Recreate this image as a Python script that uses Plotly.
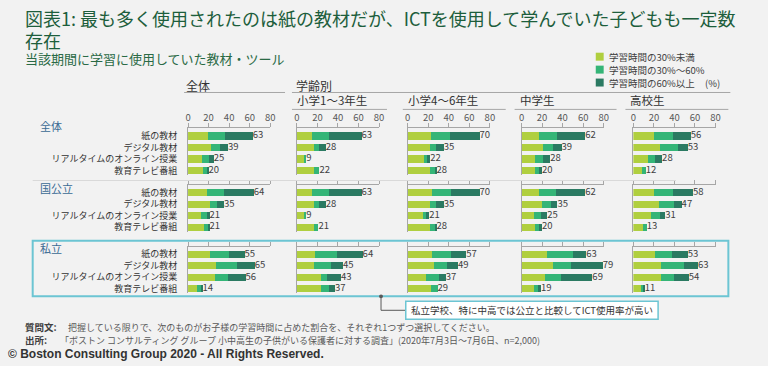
import plotly.graph_objects as go

# ---------------- data ----------------
items = ["紙の教材", "デジタル教材", "リアルタイムのオンライン授業", "教育テレビ番組"]
groups = ["全体", "国公立", "私立"]
panels = ["全体", "小学1～3年生", "小学4～6年生", "中学生", "高校生"]
series_names = ["学習時間の30%未満", "学習時間の30%～60%", "学習時間の60%以上"]
tick_vals = [0, 20, 40, 60, 80]

# each list: 全体(4 items), 国公立(4 items), 私立(4 items)
all_low = [19, 22, 14, 15, 18, 21, 13, 16, 21, 27, 26, 9]
all_mid = [17, 9, 6, 4, 17, 7, 5, 4, 19, 21, 13, 4]
all_high = [27, 8, 5, 1, 29, 7, 3, 1, 15, 17, 17, 1]

e13_low = [15, 17, 7, 17, 15, 17, 7, 17, 18, 17, 23, 23]
e13_mid = [16, 5, 2, 5, 16, 5, 2, 4, 21, 16, 6, 8]
e13_high = [32, 6, 0, 0, 32, 6, 0, 0, 25, 12, 14, 6]

e46_low = [23, 22, 16, 22, 24, 22, 15, 22, 24, 26, 18, 23]
e46_mid = [18, 6, 3, 5, 18, 6, 3, 5, 18, 12, 12, 6]
e46_high = [29, 7, 3, 1, 28, 7, 3, 1, 15, 11, 7, 0]

jh_low = [17, 21, 13, 13, 17, 20, 12, 13, 25, 31, 23, 12]
jh_mid = [18, 10, 8, 4, 17, 9, 7, 4, 25, 17, 15, 4]
jh_high = [27, 8, 7, 3, 28, 6, 6, 3, 13, 31, 31, 3]

hs_low = [20, 26, 14, 8, 20, 25, 17, 9, 21, 27, 27, 7]
hs_mid = [19, 17, 7, 4, 19, 15, 9, 4, 17, 22, 13, 2]
hs_high = [17, 10, 7, 0, 19, 7, 5, 0, 15, 14, 14, 2]

panel_data = [
    (all_low, all_mid, all_high),
    (e13_low, e13_mid, e13_high),
    (e46_low, e46_mid, e46_high),
    (jh_low, jh_mid, jh_high),
    (hs_low, hs_mid, hs_high),
]

# ---------------- style ----------------
W, H = 768, 366
colors = ["#b0cf3f", "#34b577", "#2b7a62"]
BG = "#f2f2f2"
FONT = "Noto Sans CJK JP"
col_x0 = [187, 297, 409, 524, 637]
col_w = 83
grp_top = [129, 186, 248]
grp_h = 47


def px(x):
    return x / W


def py(y):
    return 1 - y / H


fig = go.Figure()
layout = dict(
    width=W, height=H, margin=dict(l=0, r=0, t=0, b=0),
    paper_bgcolor=BG, plot_bgcolor=BG, barmode="stack", showlegend=False,
    font=dict(family=FONT, color="#404040"),
)

for g in range(3):
    for p in range(5):
        k = g * 5 + p + 1
        xa = "x" if k == 1 else f"x{k}"
        ya = "y" if k == 1 else f"y{k}"
        low, mid, high = panel_data[p]
        sl = slice(g * 4, g * 4 + 4)
        segs = [low[sl], mid[sl], high[sl]]
        for s in range(3):
            fig.add_trace(go.Bar(
                x=segs[s], y=[0, 1, 2, 3], orientation="h", width=0.62,
                marker=dict(color=colors[s], line=dict(width=0)),
                name=series_names[s], xaxis=xa, yaxis=ya, hoverinfo="x",
            ))
        totals = [a + b + c for a, b, c in zip(*segs)]
        fig.add_trace(go.Scatter(
            x=totals, y=[0, 1, 2, 3], mode="text", text=[str(t) for t in totals],
            textposition="middle right", cliponaxis=False,
            textfont=dict(size=9.5, color="#404040", family=FONT),
            xaxis=xa, yaxis=ya, hoverinfo="skip",
        ))
        layout["xaxis" if k == 1 else f"xaxis{k}"] = dict(
            domain=[px(col_x0[p]), px(col_x0[p] + col_w)], range=[0, 80],
            side="top", anchor=ya, showline=True, linecolor="#a6a6a6", linewidth=1,
            ticks="outside", ticklen=4, tickcolor="#a6a6a6", tickvals=tick_vals,
            showticklabels=(g == 0), tickfont=dict(size=9.5, color="#595959"),
            ticklabelstandoff=-2,
            showgrid=False, zeroline=False, fixedrange=True,
        )
        layout["yaxis" if k == 1 else f"yaxis{k}"] = dict(
            domain=[py(grp_top[g] + grp_h), py(grp_top[g])], range=[3.4, -0.67],
            anchor=xa, showline=True, linecolor="#a6a6a6", linewidth=1,
            tickvals=[0, 1, 2, 3], ticktext=items, showticklabels=(p == 0),
            ticks="outside", ticklen=8, tickcolor="rgba(0,0,0,0)",
            tickfont=dict(size=9, color="#333333"),
            showgrid=False, zeroline=False, fixedrange=True,
        )

ann = []
shapes = []


def text(x, y, t, size, color="#333333", anchor="left", bold=False, family=FONT):
    ann.append(dict(
        x=px(x), y=py(y), xref="paper", yref="paper", text=(f"<b>{t}</b>" if bold else t),
        showarrow=False, xanchor=anchor, yanchor="middle",
        font=dict(size=size, color=color, family=family),
    ))


def line(x0, y0, x1, y1, color="#a6a6a6", width=1):
    shapes.append(dict(type="line", xref="paper", yref="paper",
                       x0=px(x0), y0=py(y0), x1=px(x1), y1=py(y1),
                       line=dict(color=color, width=width)))


# titles
text(20, 18, "図表1: 最も多く使用されたのは紙の教材だが、ICTを使用して学んでいた子どもも一定数", 18, "#1d5e3c")
text(20, 40, "存在", 18, "#1d5e3c")
text(20, 59, "当該期間に学習に使用していた教材・ツール", 13, "#2a6a45")

# legend
for i, (nm, c) in enumerate(zip(series_names, colors)):
    yy = 57 + i * 13
    shapes.append(dict(type="rect", xref="paper", yref="paper",
                       x0=px(599), x1=px(607), y0=py(yy + 4), y1=py(yy - 4),
                       fillcolor=c, line=dict(width=0)))
    text(610, yy, nm, 9.5, "#404040")
text(727, 83, "(%)", 9.5, "#404040", anchor="right")

# panel headers
text(183, 86, panels[0], 12, "#333333")
line(183, 93, 285, 93)
text(294, 86, "学齢別", 12, "#333333")
line(292, 93, 735, 93)
sub_x = [295, 407, 520, 632]
sub_end = [388, 508, 620, 733]
for i in range(4):
    text(sub_x[i], 101, panels[i + 1], 11.5, "#333333")
    line(sub_x[i] - 3, 110, sub_end[i], 110)

# group labels
grp_y = [127, 189, 249]
for g in range(3):
    text(35, grp_y[g], groups[g], 11, "#3a6a94")

# separator and highlight box
line(30, 181.5, 680, 181.5, "#d9d9d9", 1)
shapes.append(dict(type="rect", xref="paper", yref="paper",
                   x0=px(30), x1=px(733), y0=py(298), y1=py(242),
                   line=dict(color="#6cc5d3", width=2), fillcolor="rgba(0,0,0,0)"))

# callout
shapes.append(dict(type="circle", xref="paper", yref="paper",
                   x0=px(380), x1=px(384), y0=py(300), y1=py(296),
                   fillcolor="#595959", line=dict(width=0)))
line(382, 298, 382, 312, "#595959", 1)
line(382, 312, 407, 312, "#595959", 1)
shapes.append(dict(type="rect", xref="paper", yref="paper",
                   x0=px(407), x1=px(662), y0=py(321), y1=py(303),
                   line=dict(color="#6cc5d3", width=1.5), fillcolor="#ffffff"))
text(534.5, 312, "私立学校、特に中高では公立と比較してICT使用率が高い", 9.5, "#333333", anchor="center")

# footer
text(20, 329, "質問文:", 9.5, "#404040", bold=True)
text(64, 329, "把握している限りで、次のものがお子様の学習時間に占めた割合を、それぞれ1つずつ選択してください。", 9, "#595959")
text(20, 342, "出所:", 9.5, "#404040", bold=True)
text(56, 342, "「ボストン コンサルティング グループ 小中高生の子供がいる保護者に対する調査」(2020年7月3日～7月6日、n=2,000)", 9, "#595959")
text(3, 356, "© Boston Consulting Group 2020 - All Rights Reserved.", 12, "#333333", bold=True,
     family="Liberation Sans Narrow, Liberation Sans, Arial")

layout["annotations"] = ann
layout["shapes"] = shapes
fig.update_layout(**layout)
fig.write_html(
    "out.html",
    config={"displayModeBar": False},
    post_script="document.body.style.margin='0';document.body.style.overflow='hidden';"
                "document.documentElement.style.overflow='hidden';",
)
